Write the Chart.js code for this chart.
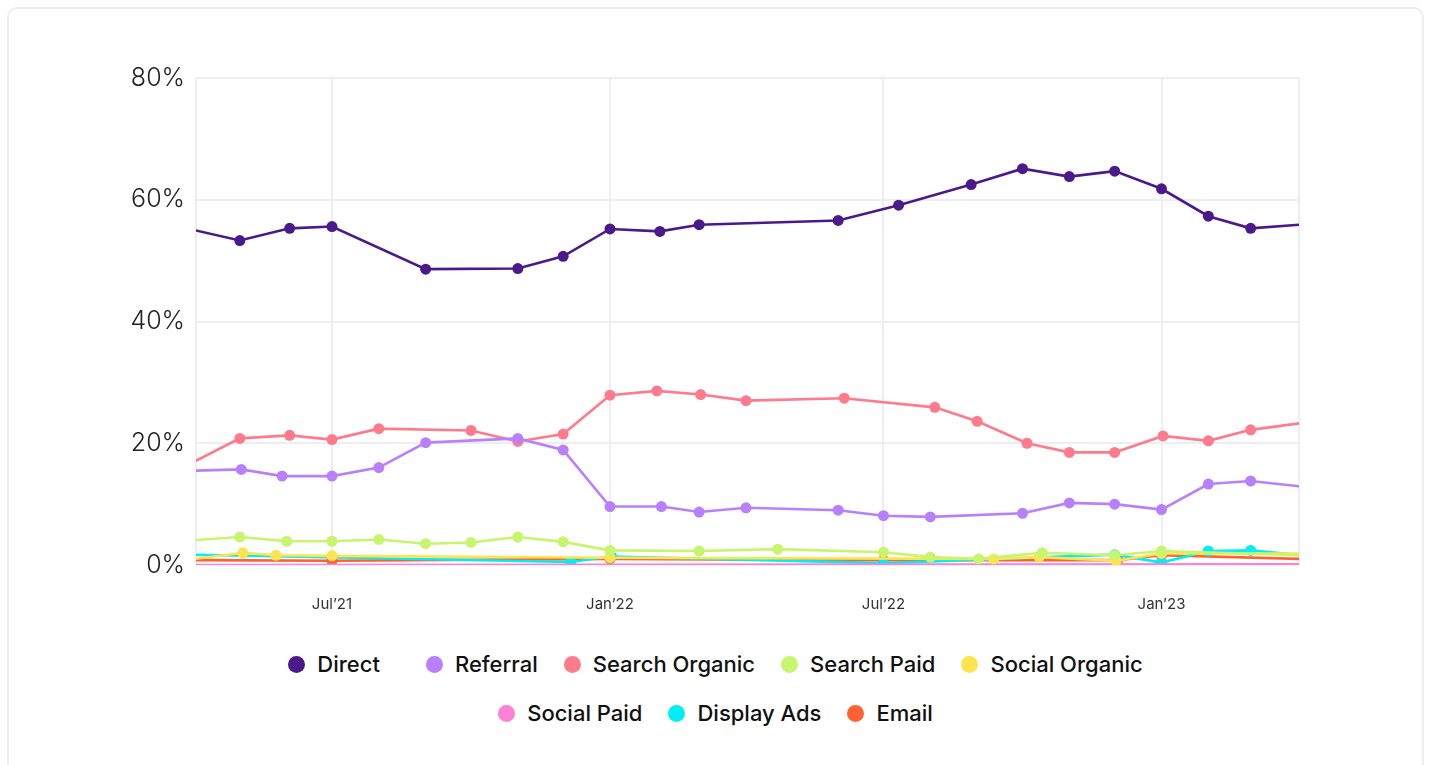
<!DOCTYPE html>
<html>
<head>
<meta charset="utf-8">
<title>Traffic channels</title>
<script src="https://cdn.jsdelivr.net/npm/chart.js@4.4.1/dist/chart.umd.min.js"></script>
<style>
  body { margin: 0; background: #fff; font-family: Inter, "Noto Sans", sans-serif; }
  .card {
    position: absolute; left: 7px; top: 7px; width: 1417px; height: 820px;
    border: 2px solid #ececf1; border-radius: 10px; box-sizing: border-box;
  }
  .chart-box { position: absolute; left: 9px; top: 9px; width: 1413px; height: 616px; }
  #chart-legend {
    position: absolute; left: 250px; top: 651px; width: 931px;
    display: flex; flex-wrap: wrap; justify-content: center;
    column-gap: 26px; row-gap: 23px;
  }
  .legend-item { display: flex; align-items: center; font-size: 22px; font-weight: 500; color: #111; line-height: 26px; }
  .legend-item.wide { margin-right: 20px; }
  .legend-dot { width: 17px; height: 17px; border-radius: 50%; margin-right: 12px; }
</style>
</head>
<body>
<div class="card"></div>
<div class="chart-box"><canvas id="traffic-chart"></canvas></div>
<div id="chart-legend"></div>

<script>
// channels and their colours
var channelNames = ['Direct', 'Referral', 'Search Organic', 'Search Paid', 'Social Organic', 'Social Paid', 'Display Ads', 'Email'];
var channelColors = ['#4a1a8b', '#b880fc', '#ff7b8c', '#c7f56d', '#ffe34f', '#ff80d4', '#00eef6', '#ff6131'];

// share of sessions (%) per channel, each with its own reporting dates
var directDates = ['2021-04-01', '2021-05-01', '2021-06-03', '2021-07-01', '2021-09-01', '2021-11-01', '2021-12-01', '2022-01-01', '2022-02-03', '2022-03-01', '2022-06-01', '2022-07-11', '2022-08-28', '2022-10-01', '2022-11-01', '2022-12-01', '2023-01-01', '2023-02-01', '2023-03-01', '2023-04-03'];
var directValues = [55.0, 53.3, 55.3, 55.6, 48.6, 48.7, 50.7, 55.2, 54.8, 55.9, 56.6, 59.1, 62.5, 65.1, 63.8, 64.7, 61.8, 57.3, 55.3, 55.9];

var referralDates = ['2021-04-01', '2021-05-02', '2021-05-29', '2021-07-01', '2021-08-01', '2021-09-01', '2021-11-01', '2021-12-01', '2022-01-01', '2022-02-04', '2022-03-01', '2022-04-01', '2022-06-01', '2022-07-01', '2022-08-01', '2022-10-01', '2022-11-01', '2022-12-01', '2023-01-01', '2023-02-01', '2023-03-01', '2023-04-03'];
var referralValues = [15.5, 15.7, 14.6, 14.6, 16.0, 20.1, 20.8, 18.9, 9.6, 9.6, 8.7, 9.4, 9.0, 8.1, 7.9, 8.5, 10.2, 10.0, 9.1, 13.3, 13.8, 12.9];

var organicDates = ['2021-04-01', '2021-05-01', '2021-06-03', '2021-07-01', '2021-08-01', '2021-10-01', '2021-11-01', '2021-12-01', '2022-01-01', '2022-02-01', '2022-03-02', '2022-04-01', '2022-06-05', '2022-08-04', '2022-09-01', '2022-10-04', '2022-11-01', '2022-12-01', '2023-01-02', '2023-02-01', '2023-03-01', '2023-04-03'];
var organicValues = [17.0, 20.8, 21.3, 20.6, 22.4, 22.1, 20.3, 21.5, 27.9, 28.6, 28.0, 27.0, 27.4, 25.9, 23.6, 20.0, 18.5, 18.5, 21.2, 20.4, 22.2, 23.3];

var paidDates = ['2021-04-01', '2021-05-01', '2021-06-01', '2021-07-01', '2021-08-01', '2021-09-01', '2021-10-01', '2021-11-01', '2021-12-01', '2022-01-01', '2022-03-01', '2022-04-22', '2022-07-01', '2022-08-01', '2022-09-02', '2022-10-14', '2022-12-01', '2023-01-01', '2023-04-03'];
var paidValues = [4.1, 4.6, 3.9, 3.9, 4.2, 3.5, 3.7, 4.6, 3.8, 2.4, 2.3, 2.6, 2.1, 1.3, 1.0, 2.0, 1.6, 2.3, 1.6];

var socialOrganicDates = ['2021-04-01', '2021-05-03', '2021-05-25', '2021-07-01', '2022-01-01', '2022-09-12', '2022-10-12', '2022-12-02', '2023-01-01', '2023-04-03'];
var socialOrganicValues = [1.0, 2.0, 1.6, 1.5, 1.2, 1.0, 1.3, 0.7, 1.9, 1.9];

var socialPaidDates = ['2021-04-01', '2023-04-03'];
var socialPaidValues = [0.0, 0.1];

var displayDates = ['2021-04-01', '2021-12-06', '2022-01-02', '2022-07-01', '2022-12-01', '2023-01-01', '2023-02-01', '2023-03-01', '2023-04-03'];
var displayValues = [1.7, 0.5, 1.4, 0.3, 1.7, 0.4, 2.3, 2.4, 1.6];

var emailDates = ['2021-04-01', '2021-07-01', '2022-01-01', '2022-07-01', '2022-12-03', '2023-01-01', '2023-04-03'];
var emailValues = [0.8, 0.7, 1.0, 0.8, 0.8, 1.6, 1.0];

// axis ticks
var xTickDates = ['2021-04-02', '2021-07-01', '2022-01-01', '2022-07-01', '2023-01-01', '2023-04-02'];
var xTickLabels = ['', 'Jul’21', 'Jan’22', 'Jul’22', 'Jan’23', ''];
var yTicks = [0, 20, 40, 60, 80];

function toTime(s) {
    var p = s.split('-');
    return Date.UTC(+p[0], +p[1] - 1, +p[2]);
}

function points(dates, values) {
    var out = [];
    for (var i = 0; i < dates.length; i++) {
        out.push({ x: toTime(dates[i]), y: values[i] });
    }
    return out;
}

var seriesData = [
    points(directDates, directValues),
    points(referralDates, referralValues),
    points(organicDates, organicValues),
    points(paidDates, paidValues),
    points(socialOrganicDates, socialOrganicValues),
    points(socialPaidDates, socialPaidValues),
    points(displayDates, displayValues),
    points(emailDates, emailValues)
];

// the first and last entries only carry the line to the plot edges
function dotRadius(ctx) {
    var last = ctx.dataset.data.length - 1;
    return (ctx.dataIndex === 0 || ctx.dataIndex === last) ? 0 : 5.5;
}

var datasets = [];
for (var i = 0; i < channelNames.length; i++) {
    datasets.push({
        label: channelNames[i],
        data: seriesData[i],
        borderColor: channelColors[i],
        backgroundColor: channelColors[i],
        borderWidth: 2.6,
        pointRadius: dotRadius,
        pointBorderWidth: 0,
        pointHoverRadius: 6,
        tension: 0
    });
}

var gridColor = '#ededf3';

var config = {
    type: 'line',
    data: { datasets: datasets },
    options: {
        responsive: true,
        maintainAspectRatio: false,
        animation: false,
        layout: { padding: { top: 69, right: 123, bottom: 0, left: 0 } },
        plugins: {
            legend: { display: false },
            tooltip: { enabled: false }
        },
        scales: {
            x: {
                type: 'linear',
                min: toTime(xTickDates[0]),
                max: toTime(xTickDates[xTickDates.length - 1]),
                afterBuildTicks: function (scale) {
                    scale.ticks = xTickDates.map(function (d) { return { value: toTime(d) }; });
                },
                afterFit: function (scale) { scale.height = 60; },
                ticks: {
                    autoSkip: false,
                    maxRotation: 0,
                    padding: 30,
                    color: '#333',
                    font: { family: 'Inter', size: 15 },
                    callback: function (value, index) { return xTickLabels[index]; }
                },
                grid: { color: gridColor, lineWidth: 2, drawTicks: false },
                border: { display: false }
            },
            y: {
                min: 0,
                max: 80,
                afterBuildTicks: function (scale) {
                    scale.ticks = yTicks.map(function (v) { return { value: v }; });
                },
                afterFit: function (scale) { scale.width = 187; },
                ticks: {
                    padding: 11,
                    color: '#222',
                    font: { family: 'Inter', size: 25, weight: 300 },
                    callback: function (value) { return value + '%'; }
                },
                grid: { color: gridColor, lineWidth: 2, drawTicks: false },
                border: { display: false }
            }
        }
    }
};

var trafficChart = new Chart(document.getElementById('traffic-chart'), config);

// Legend in its own element so it can be styled with CSS.
var legendHtml = '';
for (var j = 0; j < channelNames.length; j++) {
    legendHtml += '<div class="legend-item' + (j === 0 ? ' wide' : '') + '"><span class="legend-dot" style="background:' +
        channelColors[j] + '"></span>' + channelNames[j] + '</div>';
}
document.getElementById('chart-legend').innerHTML = legendHtml;
</script>
</body>
</html>
